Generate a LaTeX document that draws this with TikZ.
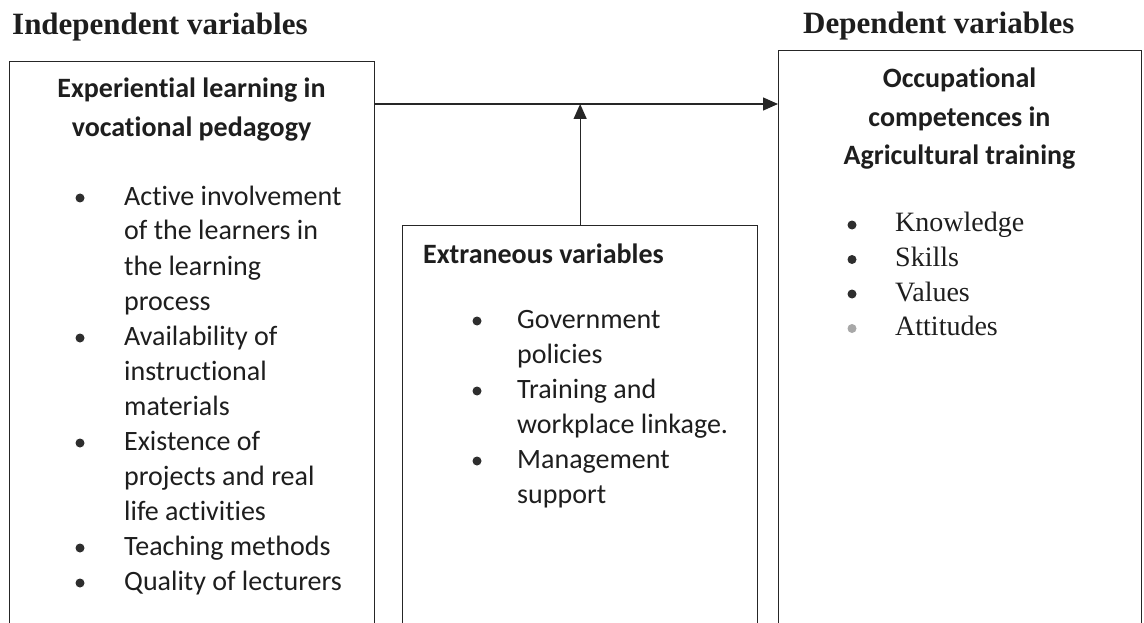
\documentclass[tikz,border=0pt]{standalone}
\usepackage{fontspec}
\setmainfont[Ligatures=NoCommon]{Carlito}
\newfontfamily\serifface{Liberation Serif}
\usetikzlibrary{arrows.meta}

\definecolor{ink}{HTML}{1E1E1E}
\definecolor{rule}{HTML}{262626}
\definecolor{dotdark}{HTML}{2E2E2E}
\definecolor{dotlight}{HTML}{A8A8A8}

\begin{document}
\begin{tikzpicture}[x=1pt,y=-1pt,
  frame/.style={draw=rule, line width=1.3pt, inner sep=0pt, anchor=north west},
  title/.style={font=\serifface\bfseries\fontsize{31}{36}\selectfont, text=ink, inner sep=0pt, anchor=base west},
  heading/.style={font=\bfseries\fontsize{28}{34}\selectfont, text=ink, inner sep=0pt, anchor=base},
  itemtext/.style={font=\fontsize{28}{34}\selectfont, text=ink, inner sep=0pt, anchor=base west},
  seriftext/.style={font=\serifface\fontsize{28}{34}\selectfont, text=ink, inner sep=0pt, anchor=base west},
  bulletdot/.style={circle, fill=dotdark, inner sep=0pt, minimum size=9pt},
  link/.style={draw=rule, line width=1.3pt, -{Triangle[length=15pt,width=13pt]}}
]
\useasboundingbox (0,0) rectangle (1144,623);
\clip (0,0) rectangle (1144,623);
\fill[white] (0,0) rectangle (1144,623);

% column titles
\node[title] (indep) at (12,35) {Independent variables};
\node[title] (dep) at (803,34) {Dependent variables};

% the three frames (their lower edges run past the page)
\node[frame, minimum width=365pt, minimum height=600pt] (lbox) at (9,61) {};
\node[frame, minimum width=355pt, minimum height=430pt] (mbox) at (402,225) {};
\node[frame, minimum width=363pt, minimum height=610pt] (rbox) at (778,50) {};

% level of the main link
\coordinate (mainy) at (0,104);

% independent variables
\node[heading] (lh1) at (191.5,98) {Experiential learning in};
\node[heading] (lh2) at (191.5,137) {vocational pedagogy};
\foreach \txt [count=\i] in {Active involvement, of the learners in, the learning, process,
  Availability of, instructional, materials, Existence of, projects and real,
  life activities, Teaching methods, Quality of lecturers}
  \node[itemtext] (li\i) at (124,{205+35*(\i-1)}) {\txt};
\foreach \i in {1,5,8,11,12}
  \node[bulletdot] (lb\i) at (80,{198+35*(\i-1)}) {};

% extraneous variables
\node[heading, anchor=base west] (mh) at (423,263) {Extraneous variables};
\foreach \txt [count=\i] in {Government, policies, Training and,
  workplace linkage., Management, support}
  \node[itemtext] (mi\i) at (517,{328+35*(\i-1)}) {\txt};
\foreach \i in {1,3,5}
  \node[bulletdot] (mb\i) at (477,{321+35*(\i-1)}) {};

% dependent variables
\node[heading] (rh1) at (959.5,88) {Occupational};
\node[heading] (rh2) at (959.5,127) {competences in};
\node[heading] (rh3) at (959.5,165) {Agricultural training};
\foreach \txt [count=\i] in {Knowledge, Skills, Values, Attitudes}
  \node[seriftext] (ri\i) at (895,{232+34.5*(\i-1)}) {\txt};
\foreach \i in {1,2,3}
  \node[bulletdot] (rb\i) at (852,{225+34.5*(\i-1)}) {};
\node[bulletdot, fill=dotlight] (rb4) at (852,{225+34.5*3}) {};

% connectors
\draw[link] (lbox.east |- mainy) -- (rbox.west |- mainy);
\draw[link] (mbox.north) -- (mbox.north |- mainy);
\end{tikzpicture}
\end{document}
